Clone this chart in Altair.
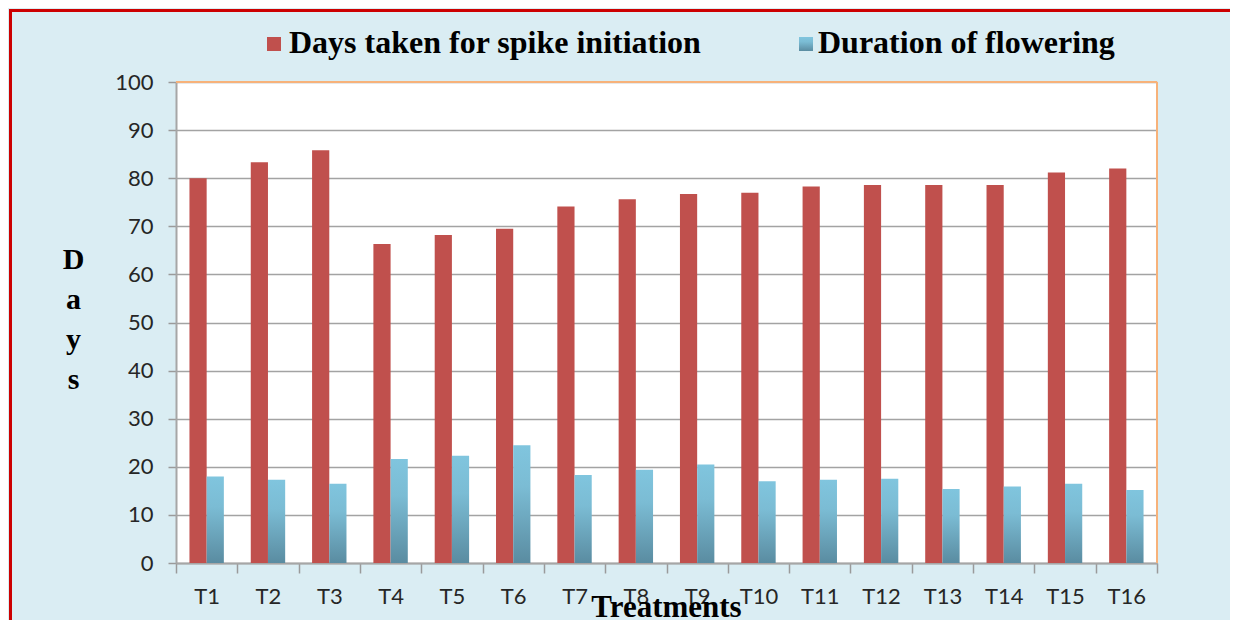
import altair as alt
import pandas as pd

treatments = ["T1", "T2", "T3", "T4", "T5", "T6", "T7", "T8",
              "T9", "T10", "T11", "T12", "T13", "T14", "T15", "T16"]
spike_days = [80.0, 83.3, 85.8, 66.3, 68.2, 69.5, 74.1, 75.6,
              76.7, 77.0, 78.3, 78.6, 78.6, 78.6, 81.2, 82.0]
flower_days = [18.0, 17.3, 16.5, 21.6, 22.3, 24.5, 18.3, 19.4,
               20.5, 17.0, 17.3, 17.5, 15.4, 15.9, 16.5, 15.2]
series_names = ["Days taken for spike initiation", "Duration of flowering"]
y_ticks = [0, 10, 20, 30, 40, 50, 60, 70, 80, 90, 100]

df = pd.DataFrame({"Treatment": treatments, "spike": spike_days, "flower": flower_days})

W, H = 981, 481
RED = "#c0504d"
blue_grad = alt.LinearGradient(
    gradient="linear",
    stops=[alt.GradientStop(color="#80c5de", offset=0),
           alt.GradientStop(color="#7bbcd4", offset=0.35),
           alt.GradientStop(color="#5a8ca1", offset=1)],
    x1=0, x2=0, y1=0, y2=1,
)

x_enc = alt.X(
    "Treatment:N", sort=treatments,
    scale=alt.Scale(paddingInner=0, paddingOuter=0),
    axis=alt.Axis(
        title="Treatments", labelAngle=0, labelFont="Lato", labelFontSize=22,
        labelColor="#262626", labelPadding=13, tickSize=10, tickColor="#9a9a9a",
        tickWidth=1.5, tickBand="extent", domainColor="#a6a6a6", domainWidth=2,
        titleFont="Liberation Serif", titleFontWeight="bold", titleFontSize=31,
        titleColor="black", titleX=490, titleY=53, titleBaseline="alphabetic",
        titleAlign="center", grid=False,
    ),
)

y_axis = alt.Axis(
    values=y_ticks, grid=True, gridColor="#a3a3a3", gridWidth=1.5,
    tickSize=8, tickColor="#9a9a9a", tickWidth=1.5, domainColor="#a6a6a6",
    domainWidth=2, labelFont="Lato", labelFontSize=22, labelColor="#262626",
    labelPadding=15,
    title=["D", "a", "y", "s"], titleAngle=0, titleAlign="center",
    titleBaseline="alphabetic", titleX=-103, titleY=186,
    titleFont="Liberation Serif", titleFontWeight="bold", titleFontSize=30,
    titleLineHeight=40, titleColor="black",
)
y_scale = alt.Scale(domain=[0, 100])

base = alt.Chart(df)
red = base.mark_bar(color=RED, width=17.2, xOffset=-8.6).encode(
    x=x_enc, y=alt.Y("spike:Q", scale=y_scale, axis=y_axis))
blue = base.mark_bar(color=blue_grad, width=17.2, xOffset=8.6).encode(
    x=x_enc, y=alt.Y("flower:Q", scale=y_scale, axis=y_axis))

one = alt.Data(values=[{"a": 1}])

top_edge = alt.Chart(one).mark_rule(color="#f7b27a", strokeWidth=2).encode(
    x=alt.value(0), x2=alt.value(W), y=alt.value(0))
right_edge = alt.Chart(one).mark_rule(color="#f7b27a", strokeWidth=2).encode(
    x=alt.value(W), y=alt.value(0), y2=alt.value(H))

frame = alt.Chart(one).mark_rect(filled=False, stroke="#cc0000", strokeWidth=3).encode(
    x=alt.value(-165.5), x2=alt.value(1300), y=alt.value(-71.5), y2=alt.value(700))

leg_sq1 = alt.Chart(one).mark_rect(color=RED).encode(
    x=alt.value(91), x2=alt.value(105), y=alt.value(-45), y2=alt.value(-31))
leg_sq2 = alt.Chart(one).mark_rect(color=blue_grad).encode(
    x=alt.value(623), x2=alt.value(637), y=alt.value(-45), y2=alt.value(-31))

leg_df1 = pd.DataFrame({"label": [series_names[0]]})
leg_df2 = pd.DataFrame({"label": [series_names[1]]})
leg_txt1 = alt.Chart(leg_df1).mark_text(
    align="left", baseline="alphabetic", font="Liberation Serif",
    fontWeight="bold", fontSize=32, color="black").encode(
    x=alt.value(113), y=alt.value(-29), text="label:N")
leg_txt2 = alt.Chart(leg_df2).mark_text(
    align="left", baseline="alphabetic", font="Liberation Serif",
    fontWeight="bold", fontSize=32, color="black").encode(
    x=alt.value(642), y=alt.value(-29), text="label:N")

chart = alt.layer(
    red, blue, top_edge, right_edge, frame, leg_sq1, leg_sq2, leg_txt1, leg_txt2
).properties(
    width=W, height=H,
    autosize=alt.AutoSizeParams(type="none"),
    padding={"left": 168, "top": 74, "right": 73, "bottom": 57},
    background="#daedf3",
).configure_view(
    stroke=None, fill="white"
)

chart.save("out.html", embed_options={"renderer": "svg", "actions": False})
